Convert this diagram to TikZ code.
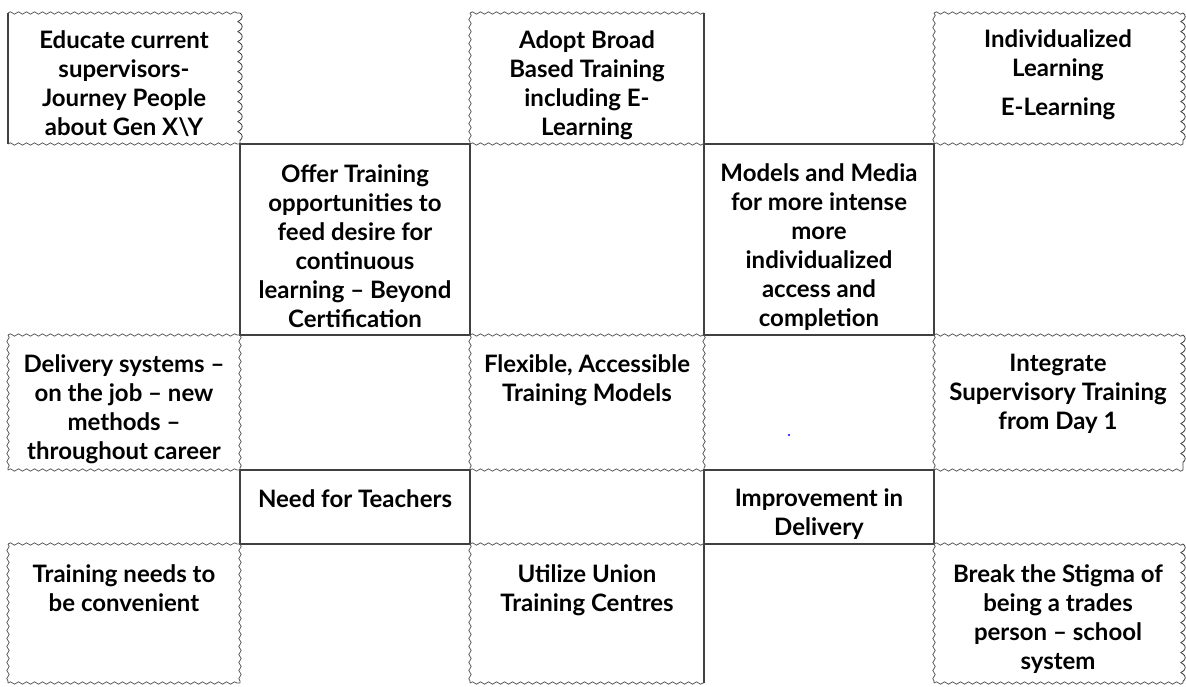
\documentclass[tikz,border=0pt]{standalone}
\usepackage{fontspec}
\setmainfont{Lato}
\usetikzlibrary{decorations.pathmorphing}
\newcommand{\lblfont}{\fontsize{24}{29}\selectfont\bfseries}
\definecolor{edge}{HTML}{404040}
\tikzset{
  lbl/.style={anchor=north, align=center, font=\lblfont, inner sep=0pt, text=black},
  flat/.style={draw=edge, line width=1.1pt},
  torn/.style={draw=edge!90, line width=0.75pt, decorate,
    decoration={snake, amplitude=1.2pt, segment length=8pt}},
  beads/.style={draw=edge, line width=0.8pt, decorate,
    decoration={coil, amplitude=2.2pt, segment length=10pt, aspect=0.5}},
}
\begin{document}
\begin{tikzpicture}[x=1pt, y=-1pt]
\useasboundingbox (0,0) rectangle (1186,686);
% grid corners p<col><row>
\foreach \i/\xx in {0/8,1/240,2/470,3/704,4/934,5/1183}
  \foreach \j/\yy in {0/13,1/144,2/335,3/470,4/544,5/683}
    \coordinate (p\i\j) at (\xx,\yy);

% plain boxes of the odd cells
\draw[flat] (p11) rectangle (p22);
\draw[flat] (p31) rectangle (p42);
\draw[flat] (p13) rectangle (p24);
\draw[flat] (p33) rectangle (p44);
\draw[flat] (p00) -- (p01);
\draw[flat] (p30) -- (p31);
\draw[flat] (p34) -- (p35);

% torn top and bottom edges of the even cells
\foreach \c/\d in {0/1,2/3,4/5}
  \foreach \r/\s in {0/1,2/3,4/5} {
    \draw[torn] (p\c\r) -- (p\d\r);
    \draw[torn] (p\c\s) -- (p\d\s);
  }
% torn left edges
\draw[torn] (p02) -- (p03);
\draw[torn] (p04) -- (p05);
\draw[torn] (p20) -- (p21);
\draw[torn] (p22) -- (p23);
\draw[torn] (p24) -- (p25);
\draw[torn] (p40) -- (p41);
\draw[torn] (p42) -- (p43);
\draw[torn] (p44) -- (p45);
% torn right edges
\draw[torn] (p12) -- (p13);
\draw[torn] (p14) -- (p15);
\draw[torn] (p32) -- (p33);
% beaded right edges
\draw[beads] (p10) -- (p11);
\draw[beads] (p50) -- (p51);
\draw[beads] (p52) -- (p53);
\draw[beads] (p54) -- (p55);

% labels
\node[lbl] (t00) at (124,30) {Educate current\\supervisors-\\Journey People\\about Gen X\textbackslash Y};
\node[lbl] (t02) at (587,30) {Adopt Broad\\Based Training\\including E-\\Learning};
\node[lbl] (t04) at (1058,29) {Individualized\\Learning\\[10pt]E-Learning};
\node[lbl] (t11) at (355,164) {Offer Training\\opportunities to\\feed desire for\\continuous\\learning – Beyond\\Certification};
\node[lbl] (t13) at (819,163) {Models and Media\\for more intense\\more\\individualized\\access and\\completion};
\node[lbl] (t20) at (124,354) {Delivery systems –\\on the job – new\\methods –\\throughout career};
\node[lbl] (t22) at (587,354) {Flexible, Accessible\\Training Models};
\node[lbl] (t24) at (1058,354) {Integrate\\Supervisory Training\\from Day 1};
\node[lbl] (t31) at (355,489) {Need for Teachers};
\node[lbl] (t33) at (819,488) {Improvement in\\Delivery};
\node[lbl] (t40) at (124,564) {Training needs to\\be convenient};
\node[lbl] (t42) at (587,564) {Utilize Union\\Training Centres};
\node[lbl] (t44) at (1058,564) {Break the Stigma of\\being a trades\\person – school\\system};

% stray dot
\fill[blue] (789,435) circle (1.2);
\end{tikzpicture}
\end{document}
